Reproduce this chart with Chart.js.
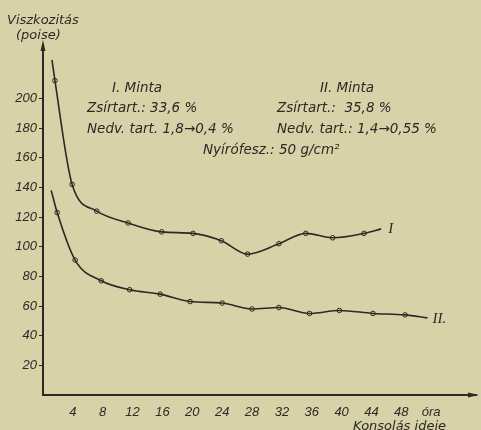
<!DOCTYPE html>
<html lang="hu">
<head>
  <meta charset="UTF-8">
  <title>Viszkozitás – Konsolás ideje</title>
  <script src="https://cdn.jsdelivr.net/npm/chart.js"></script>
  <style>
    body {
      margin: 0;
      background: #d8d2a8;
    }
    #wrap {
      position: relative;
      width: 481px;
      height: 430px;
    }
  </style>
</head>
<body>
  <div id="wrap">
    <canvas id="chart"></canvas>
  </div>

  <script>
    const timeI = [1.6, 3.9, 7.2, 11.4, 15.9, 20.1, 23.9, 27.4, 31.6, 35.2, 38.8, 43.0];
    const viscI = [212, 142, 124, 116, 110, 109, 104, 95, 102, 109, 106, 109];
    const timeII = [1.9, 4.3, 7.8, 11.6, 15.7, 19.7, 24.0, 28.0, 31.6, 35.7, 39.7, 44.2, 48.5];
    const viscII = [123, 91, 77, 71, 68, 63, 62, 58, 59, 55, 57, 55, 54];

    // where the drawn curves start and stop beyond the markers
    const lineEndsI = [[1.2, 226], [45.3, 112]];
    const lineEndsII = [[1.1, 138], [51.5, 52]];

    const yTicks = [20, 40, 60, 80, 100, 120, 140, 160, 180, 200];
    const xTicks = [4, 8, 12, 16, 20, 24, 28, 32, 36, 40, 44, 48];
    const xUnit = 'óra';

    const ink = '#2b2a24';
    const paper = '#d8d2a8';
    const font = '"Liberation Sans", Arial, sans-serif';
    const wideFont = '"DejaVu Sans", sans-serif';

    const toPoints = (xs, ys) => xs.map((x, i) => ({ x: x, y: ys[i] }));
    const withEnds = (pts, ends) => [{ x: ends[0][0], y: ends[0][1] }, ...pts, { x: ends[1][0], y: ends[1][1] }];

    const ptsI = toPoints(timeI, viscI);
    const ptsII = toPoints(timeII, viscII);

    const lineStyle = {
      borderColor: ink,
      borderWidth: 1.6,
      pointRadius: 0,
      cubicInterpolationMode: 'monotone',
      fill: false
    };
    const markerStyle = {
      showLine: false,
      pointRadius: 2.3,
      pointBackgroundColor: paper,
      pointBorderColor: ink,
      pointBorderWidth: 1
    };

    // paper colour, axis arrows, texts and curve labels
    const paperPlugin = {
      id: 'paper',
      beforeDraw(chart) {
        const c = chart.ctx;
        c.save();
        c.fillStyle = paper;
        c.fillRect(0, 0, chart.width, chart.height);
        c.restore();
      },
      afterDraw(chart) {
        const c = chart.ctx;
        const a = chart.chartArea;
        const xs = chart.scales.x;
        const ys = chart.scales.y;
        c.save();
        c.fillStyle = ink;

        // arrow heads
        c.beginPath();
        c.moveTo(a.left, a.top - 5);
        c.lineTo(a.left - 2.5, a.top + 6);
        c.lineTo(a.left + 2.5, a.top + 6);
        c.closePath();
        c.fill();
        c.beginPath();
        c.moveTo(a.right + 3, a.bottom);
        c.lineTo(a.right - 8, a.bottom - 2.5);
        c.lineTo(a.right - 8, a.bottom + 2.5);
        c.closePath();
        c.fill();

        // axis titles
        c.font = 'italic 13px ' + wideFont;
        c.textBaseline = 'alphabetic';
        c.textAlign = 'left';
        c.fillText('Viszkozitás', 7, 24);
        c.fillText('(poise)', 16, 39);
        c.textAlign = 'right';
        c.fillText('Konsolás ideje', 446, 430);

        // sample descriptions
        c.font = 'italic 13.5px ' + wideFont;
        c.textAlign = 'left';
        c.fillText('I. Minta', 112, 92);
        c.fillText('Zsírtart.: 33,6 %', 87, 112);
        c.fillText('Nedv. tart. 1,8→0,4 %', 87, 133);
        c.fillText('II. Minta', 320, 92);
        c.fillText('Zsírtart.:  35,8 %', 277, 112);
        c.fillText('Nedv. tart.: 1,4→0,55 %', 277, 133);
        c.fillText('Nyírófesz.: 50 g/cm²', 203, 154);

        // curve labels next to the curve ends
        c.font = 'italic 15px "Liberation Serif", serif';
        c.textBaseline = 'middle';
        c.fillText('I', xs.getPixelForValue(lineEndsI[1][0]) + 7, ys.getPixelForValue(lineEndsI[1][1]));
        c.fillText('II.', xs.getPixelForValue(lineEndsII[1][0]) + 5, ys.getPixelForValue(lineEndsII[1][1]) + 1);
        c.restore();
      }
    };

    new Chart(document.getElementById('chart'), {
      type: 'scatter',
      data: {
        datasets: [
          { label: 'I', data: withEnds(ptsI, lineEndsI), showLine: true, ...lineStyle },
          { label: 'II', data: withEnds(ptsII, lineEndsII), showLine: true, ...lineStyle },
          { label: 'I pontok', data: ptsI, ...markerStyle },
          { label: 'II pontok', data: ptsII, ...markerStyle }
        ]
      },
      options: {
        responsive: true,
        maintainAspectRatio: false,
        animation: false,
        layout: { padding: { top: 45, right: 3, left: 0, bottom: 0 } },
        plugins: {
          legend: { display: false },
          tooltip: { enabled: false }
        },
        scales: {
          x: {
            type: 'linear',
            min: 0,
            max: 58,
            afterFit: s => { s.height = 35; },
            grid: { display: false },
            border: { display: true, color: ink, width: 2 },
            ticks: {
              stepSize: 4,
              autoSkip: false,
              maxRotation: 0,
              padding: 2,
              color: ink,
              font: { family: font, size: 13, style: 'italic' },
              callback: v => xTicks.includes(v) ? String(v) : (v === 52 ? xUnit : '')
            }
          },
          y: {
            type: 'linear',
            min: 0,
            max: 236,
            afterFit: s => { s.width = 43; },
            grid: {
              drawOnChartArea: false,
              drawTicks: true,
              tickLength: 4,
              lineWidth: 1,
              color: ctx => yTicks.includes(ctx.tick && ctx.tick.value) ? ink : 'rgba(0,0,0,0)'
            },
            border: { display: true, color: ink, width: 2 },
            ticks: {
              stepSize: 20,
              autoSkip: false,
              padding: 2,
              color: ink,
              font: { family: font, size: 13, style: 'italic' },
              callback: v => yTicks.includes(v) ? String(v) : ''
            }
          }
        }
      },
      plugins: [paperPlugin]
    });
  </script>
</body>
</html>
